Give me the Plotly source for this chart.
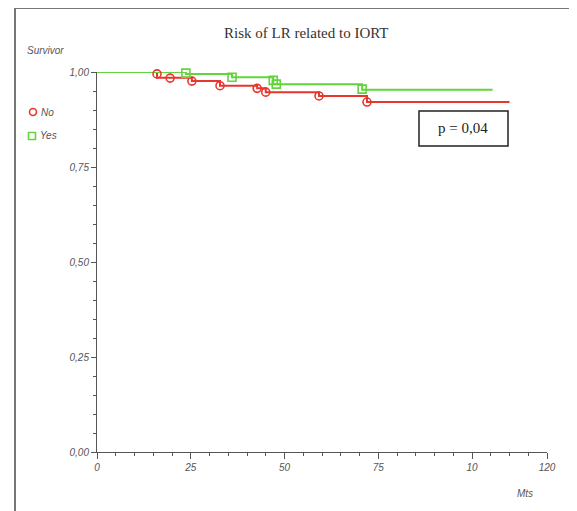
import plotly.graph_objects as go

# ---- data ----
no_event_times = [0, 16, 25.3, 32.8, 42.7, 45.0, 59.2, 72.0]
no_survival = [1.0, 0.985, 0.976, 0.964, 0.957, 0.947, 0.937, 0.921]
no_end_time = 110
no_cens_times = [16, 19.5, 25.3, 32.8, 42.7, 45.0, 59.2, 72.0]
no_cens_surv = [0.995, 0.984, 0.976, 0.964, 0.957, 0.947, 0.937, 0.921]

yes_event_times = [0, 23.7, 36.0, 47.0, 70.7]
yes_survival = [1.0, 0.995, 0.986, 0.968, 0.953]
yes_end_time = 105.5
yes_cens_times = [23.7, 36.0, 47.0, 47.8, 70.7]
yes_cens_surv = [0.997, 0.986, 0.978, 0.968, 0.955]

x_tickvals = [0, 25, 50, 75, 100, 120]
x_ticktext = ["0", "25", "50", "75", "10", "120"]
y_tickvals = [0, 0.25, 0.5, 0.75, 1.0]
y_ticktext = ["0,00", "0,25", "0,50", "0,75", "1,00"]

RED = "#e8362f"
GREEN = "#62d43c"
GRAY = "#555555"

OFF = 8  # page body margin
W, H = 577 - OFF, 511 - OFF
L, R, T, B = 97 - OFF, 547 - OFF, 72 - OFF, 452 - OFF


def px(x):
    return (x - OFF - L) / (R - L)


def py(y):
    return (B - (y - OFF)) / (B - T)


fig = go.Figure()

fig.add_trace(go.Scatter(
    x=no_event_times + [no_end_time], y=no_survival + [no_survival[-1]],
    mode="lines", line=dict(color=RED, width=2, shape="hv"), showlegend=False))
fig.add_trace(go.Scatter(
    x=yes_event_times + [yes_end_time], y=yes_survival + [yes_survival[-1]],
    mode="lines", line=dict(color=GREEN, width=2, shape="hv"), showlegend=False))
fig.add_trace(go.Scatter(
    x=no_cens_times, y=no_cens_surv, mode="markers",
    marker=dict(symbol="circle-open", size=8, color=RED, line=dict(width=1.6, color=RED)),
    showlegend=False, cliponaxis=False))
fig.add_trace(go.Scatter(
    x=yes_cens_times, y=yes_cens_surv, mode="markers",
    marker=dict(symbol="square-open", size=8, color=GREEN, line=dict(width=1.6, color=GREEN)),
    showlegend=False, cliponaxis=False))

tickfont = dict(family="Liberation Sans, Arial", size=10, color=GRAY, style="italic")

fig.update_xaxes(
    range=[0, 120], tickvals=x_tickvals, ticktext=x_ticktext,
    showline=True, linecolor=GRAY, linewidth=1, ticks="outside", ticklen=6,
    tickcolor=GRAY, tickwidth=1, showgrid=False, zeroline=False, tickfont=tickfont,
    minor=dict(dtick=5, tick0=0, ticks="outside", ticklen=3, tickcolor=GRAY, showgrid=False))
fig.update_yaxes(
    range=[0, 1], tickvals=y_tickvals, ticktext=y_ticktext,
    showline=True, linecolor=GRAY, linewidth=1, ticks="outside", ticklen=5,
    tickcolor=GRAY, tickwidth=1, showgrid=False, zeroline=False, tickfont=tickfont,
    minor=dict(dtick=0.05, tick0=0, ticks="outside", ticklen=3, tickcolor=GRAY, showgrid=False))

shapes = [
    # outer frame (left and top)
    dict(type="line", xref="paper", yref="paper", x0=px(15), x1=px(15), y0=py(8), y1=py(520),
         line=dict(color="#777777", width=2)),
    dict(type="line", xref="paper", yref="paper", x0=px(15), x1=px(580), y0=py(8), y1=py(8),
         line=dict(color="#777777", width=2)),
    # p-value box
    dict(type="rect", xref="paper", yref="paper", x0=px(419), x1=px(508), y0=py(146), y1=py(111),
         line=dict(color="#222222", width=1.5), fillcolor="white"),
    # legend symbols
    dict(type="circle", xref="paper", yref="paper", x0=px(29.5), x1=px(36.5), y0=py(115.5), y1=py(108.5),
         line=dict(color=RED, width=1.6)),
    dict(type="rect", xref="paper", yref="paper", x0=px(28.5), x1=px(35.5), y0=py(139.5), y1=py(132.5),
         line=dict(color=GREEN, width=1.6)),
]

labfont = dict(family="Liberation Sans, Arial", size=10, color=GRAY, style="italic")
annotations = [
    dict(text="Risk of LR related to IORT", xref="paper", yref="paper", x=px(306), y=py(33),
         xanchor="center", yanchor="middle", showarrow=False,
         font=dict(family="Liberation Serif, Times New Roman", size=15, color="#333333")),
    dict(text="p = 0,04", xref="paper", yref="paper", x=px(463), y=py(128.5),
         xanchor="center", yanchor="middle", showarrow=False,
         font=dict(family="Liberation Serif, Times New Roman", size=15, color="#222222")),
    dict(text="Survivor", xref="paper", yref="paper", x=px(25), y=py(50),
         xanchor="left", yanchor="middle", showarrow=False, font=labfont),
    dict(text="Mts", xref="paper", yref="paper", x=px(515), y=py(493),
         xanchor="left", yanchor="middle", showarrow=False, font=labfont),
    dict(text="No", xref="paper", yref="paper", x=px(39), y=py(112),
         xanchor="left", yanchor="middle", showarrow=False, font=labfont),
    dict(text="Yes", xref="paper", yref="paper", x=px(38), y=py(136),
         xanchor="left", yanchor="middle", showarrow=False, font=labfont),
]

fig.update_layout(
    width=W, height=H,
    margin=dict(l=L, r=W - R, t=T, b=H - B, autoexpand=False),
    paper_bgcolor="white", plot_bgcolor="white",
    shapes=shapes, annotations=annotations, showlegend=False,
)

fig.write_html("out.html")
